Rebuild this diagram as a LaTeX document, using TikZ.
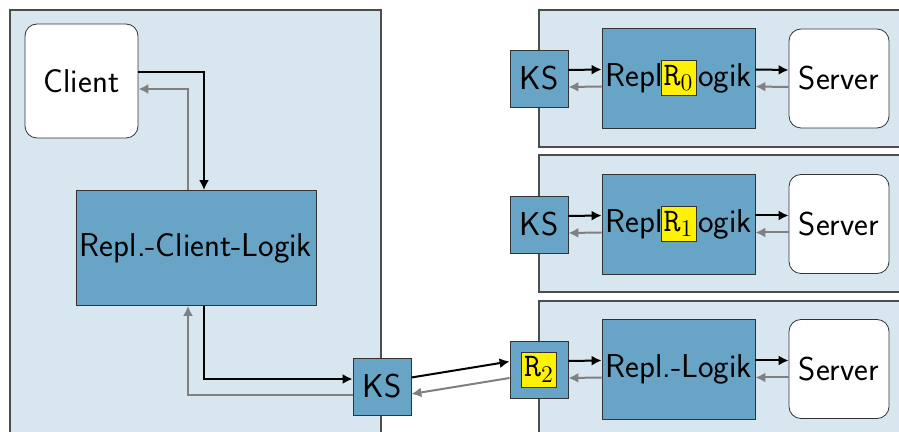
\documentclass[tikz,border=0pt]{standalone}
\usepackage{tikz}
\usetikzlibrary{arrows,arrows.meta}
\definecolor{paneblue}{HTML}{D8E6F0}
\definecolor{boxblue}{HTML}{67A4C6}
\tikzset{fwd/.style={->, >={Latex[length=5pt,width=5pt]}, line width=1pt},
  bwd/.style={->, >={Latex[length=5pt,width=5pt]}, line width=1pt, gray},
  pane/.style={draw=black!70, fill=paneblue, line width=0.6pt},
  logik/.style={draw=black!80, fill=boxblue, minimum width=76.5pt, minimum height=50pt, inner sep=0pt},
  ks/.style={draw=black!80, fill=boxblue, minimum width=29pt, minimum height=28.5pt, inner sep=0pt},
  srv/.style={draw=black!80, fill=white, rounded corners=6pt, minimum width=50pt, minimum height=49.5pt},
  hilite/.style={draw=black!80, fill=yellow, minimum size=17.5pt, inner sep=0pt}}

\begin{document}
\begin{tikzpicture}[x=0.5pt, y=-0.5pt, font=\sffamily\fontsize{16.5}{19}\selectfont]
    \useasboundingbox (0, 0) rectangle (899, 432);
    \clip (0, 0) rectangle (899, 432);
    % backgrounds
    \draw[pane] (10, 10) rectangle (381, 445);
    \draw[pane] (539, 10) rectangle (910, 147);
    \draw[pane] (539, 155) rectangle (910, 292);
    \draw[pane] (539, 301) rectangle (910, 445);
    % client side
    \node[srv, minimum width=56.5pt, minimum height=57pt] (client) at (81.5, 81) {Client};
    \node[logik, minimum width=120pt, minimum height=57.5pt] (cl) at (196, 248) {Repl.-Client-Logik};
    \node[ks] (ksl) at (382, 386.5) {KS};
    \draw[fwd] ([yshift=4.5pt]client.east) -| ([xshift=4pt]cl.north);
    \draw[bwd] ([xshift=-4pt]cl.north) |- ([yshift=-4pt]client.east);
    \draw[fwd] ([xshift=4pt]cl.south) |- ([yshift=3.75pt]ksl.west);
    \draw[bwd] ([yshift=-4.25pt]ksl.west) -| ([xshift=-4pt]cl.south);
    % server side
    \node[ks] (ks0) at (539, 78.5) {KS};
    \node[logik] (lg0) at (678.5, 78) {Repl.-Logik};
    \node[srv] (sv0) at (839, 78.5) {Server};
    \node[ks] (ks1) at (539, 224.5) {KS};
    \node[logik] (lg1) at (678.5, 224) {Repl.-Logik};
    \node[srv] (sv1) at (839, 224) {Server};
    \node[ks] (ks2) at (539, 369.5) {};
    \node[logik] (lg2) at (678.5, 369) {Repl.-Logik};
    \node[srv] (sv2) at (839, 369) {Server};
    \node[hilite] (r0) at (lg0) {\texttt{R}$_0$};
    \node[hilite] (r1) at (lg1) {\texttt{R}$_1$};
    \node[hilite] (r2) at (ks2) {\texttt{R}$_2$};
    \foreach \i in {0,1,2} {
      \draw[fwd] ([yshift=4.25pt]ks\i.east) -- ([yshift=4.25pt]lg\i.west);
      \draw[bwd] ([yshift=-4.25pt]lg\i.west) -- ([yshift=-4.25pt]ks\i.east);
      \draw[fwd] ([yshift=4.25pt]lg\i.east) -- ([yshift=4.25pt]sv\i.west);
      \draw[bwd] ([yshift=-4.25pt]sv\i.west) -- ([yshift=-4.25pt]lg\i.east);
    }
    \draw[fwd] ([yshift=4.5pt]ksl.east) -- ([yshift=4pt]ks2.west);
    \draw[bwd] ([yshift=-4.25pt]ks2.west) -- ([yshift=-3.75pt]ksl.east);
\end{tikzpicture}
\end{document}
